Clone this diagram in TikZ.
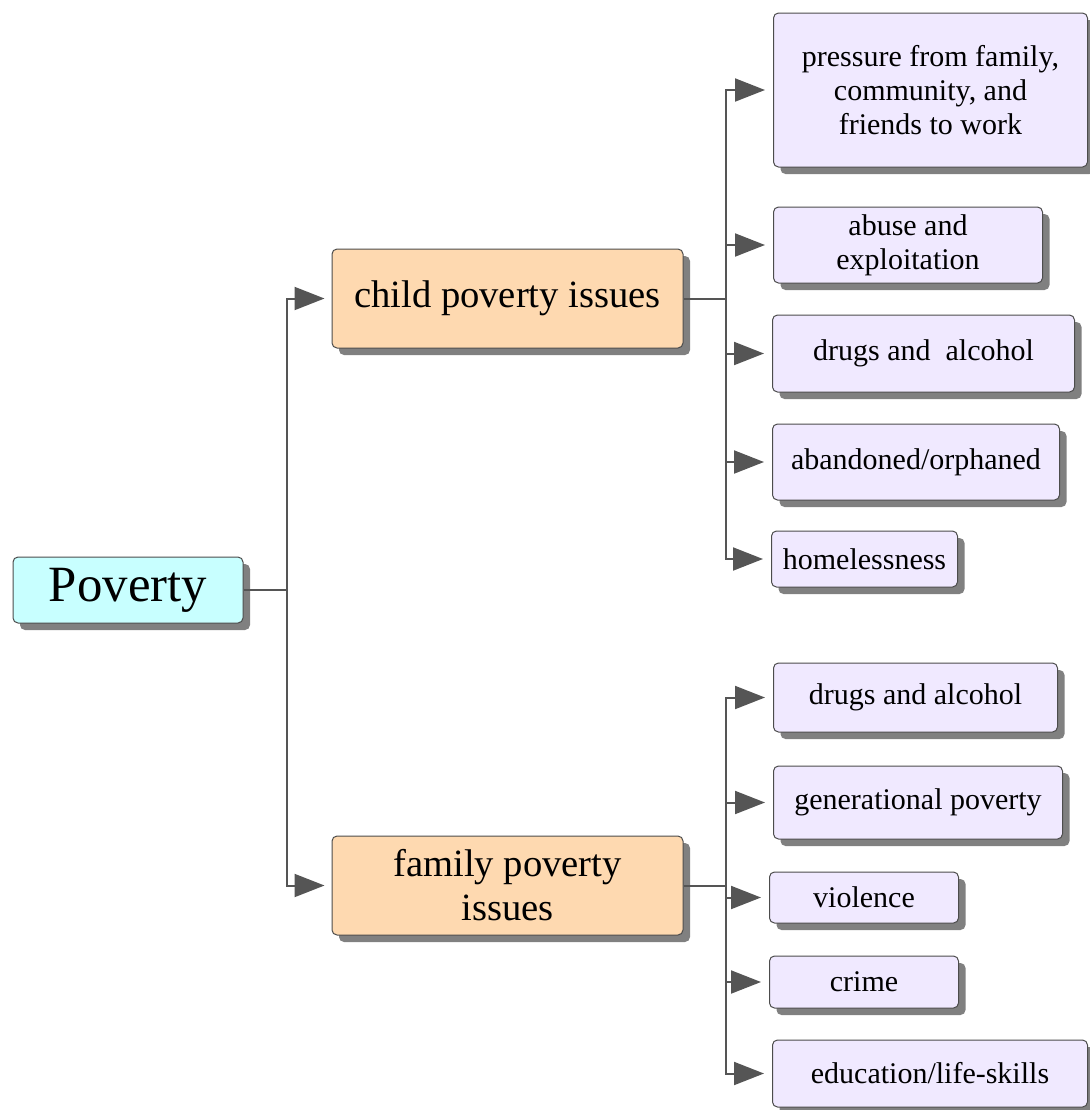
\documentclass[tikz,border=0pt]{standalone}
\usepackage{fontspec}
\setmainfont{Liberation Serif}
\usetikzlibrary{arrows.meta}
\usetikzlibrary{shadows}
\usetikzlibrary{positioning}

\definecolor{rootcyan}{RGB}{200,255,255}
\definecolor{issueorange}{RGB}{254,217,176}
\definecolor{leaflilac}{RGB}{240,233,255}
\definecolor{linkgray}{RGB}{85,85,85}

\tikzset{
  basebox/.style={draw=black!70, line width=0.5pt, rounded corners=2.5pt, align=center, inner sep=0pt,
    drop shadow={shadow xshift=3.5pt, shadow yshift=-3.5pt, fill=black!50, opacity=1}},
  rootbox/.style={basebox, fill=rootcyan, font=\fontsize{25.4}{30}\selectfont},
  issuebox/.style={basebox, fill=issueorange, font=\fontsize{19.3}{22}\selectfont},
  leafbox/.style={basebox, fill=leaflilac, anchor=west, font=\fontsize{15}{17}\selectfont},
  link/.style={draw=linkgray, line width=1pt},
  arrowlink/.style={link, -{Triangle[length=15pt,width=11.5pt]}, shorten >=4pt},
}

\begin{document}
\begin{tikzpicture}[x=0.5pt, y=-0.5pt]
        \useasboundingbox (0,0) rectangle (1089,1110);

        % Root
        \node[rootbox, minimum width=115pt, minimum height=33pt] (poverty) at (128,590) {Poverty};

        % Two kinds of issues
        \node[issuebox, minimum width=175.5pt, minimum height=49.5pt] (child) at (507.5,298.5) {child poverty issues};
        \node[issuebox, minimum width=175.5pt, minimum height=49.5pt] (family) at (507.5,885.5) {family poverty\\issues};

        % Child poverty issues
        \node[leafbox, minimum width=157pt, minimum height=77pt] (pressure) at (773,90) {pressure from family,\\community, and\\friends to work};
        \node[leafbox, minimum width=134.5pt, minimum height=38pt] (abuse) at (773,245) {abuse and\\exploitation};
        \node[leafbox, minimum width=151pt, minimum height=38.5pt] (drugsc) at (772,353.5) {drugs and~~alcohol};
        \node[leafbox, minimum width=143.5pt, minimum height=38pt] (orphaned) at (772,462) {abandoned/orphaned};
        \node[leafbox, minimum width=93pt, minimum height=28pt] (homeless) at (771,559) {homelessness};

        % Family poverty issues
        \node[leafbox, minimum width=142pt, minimum height=34.5pt] (drugsf) at (773,697.5) {drugs and alcohol};
        \node[leafbox, minimum width=144.5pt, minimum height=36.5pt] (generational) at (773,802.5) {generational poverty};
        \node[leafbox, minimum width=94.5pt, minimum height=25.5pt] (violence) at (769,897.5) {violence};
        \node[leafbox, minimum width=94.5pt, minimum height=26pt] (crime) at (769,982) {crime};
        \node[leafbox, minimum width=157.5pt, minimum height=33.5pt] (education) at (772,1073.5) {education/life-skills};

        % Connectors from the root
        \coordinate (rootbus) at (287,590);
        \draw[link] (poverty.east) -- (rootbus);
        \draw[arrowlink, shorten >=3.5pt] (rootbus) |- (child.west);
        \draw[arrowlink, shorten >=3.5pt] (rootbus) |- (family.west);

        % Connectors to the leaves
        \coordinate (childbus) at (726,298.5);
        \draw[link] (child.east) -- (childbus);
        \foreach \leaf in {pressure,abuse,drugsc,orphaned,homeless}
            \draw[arrowlink] (childbus) |- (\leaf.west);

        \coordinate (familybus) at (726,885.5);
        \draw[link] (family.east) -- (familybus);
        \foreach \leaf in {drugsf,generational,violence,crime,education}
            \draw[arrowlink] (familybus) |- (\leaf.west);
        \end{tikzpicture}
\end{document}
